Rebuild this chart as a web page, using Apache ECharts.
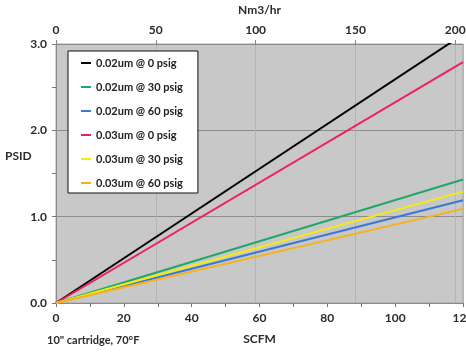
<!DOCTYPE html>
<html><head><meta charset="utf-8">
<script src="https://cdn.jsdelivr.net/npm/echarts@6/dist/echarts.min.js"></script>
<style>html,body{margin:0;padding:0;background:#fff}#c{width:466px;height:353px}</style>
</head><body><div id="c"></div>
<script>
const seriesNames = ['0.02um @ 0 psig','0.02um @ 30 psig','0.02um @ 60 psig','0.03um @ 0 psig','0.03um @ 30 psig','0.03um @ 60 psig'];
const seriesColors = ['#000000','#20a868','#3a78d4','#f0205a','#f2ec10','#f5b21c'];
const scfm = [0, 120];
const psid_002_0 = [0, 3.11];
const psid_002_30 = [0, 1.43];
const psid_002_60 = [0, 1.19];
const psid_003_0 = [0, 2.79];
const psid_003_30 = [0, 1.29];
const psid_003_60 = [0, 1.09];
const seriesValues = [psid_002_0, psid_002_30, psid_002_60, psid_003_0, psid_003_30, psid_003_60];
const nm3PerScfm = 1.699;

const font = 'Lato, "Open Sans", sans-serif';
const lbl = {color:'#2b2b2b', fontFamily:font, fontWeight:'bold', fontSize:12};
const chart = echarts.init(document.getElementById('c'));
chart.setOption({
  animation:false,
  backgroundColor:'#ffffff',
  grid:{left:56, right:3, top:44, bottom:50, containLabel:false, outerBoundsMode:'none',
        show:true, backgroundColor:'#c8c8c8', borderColor:'#a8a8a8', borderWidth:1},
  legend:{
    show:true, orient:'vertical', left:68, top:51,
    backgroundColor:'#ffffff', borderColor:'#111', borderWidth:1,
    padding:[5,15,3,13], itemGap:10, itemWidth:10, itemHeight:2, icon:'rect',
    textStyle:{color:'#222', fontFamily:font, fontWeight:'bold', fontSize:11, lineHeight:14, height:14},
    data:seriesNames
  },
  xAxis:[
    {type:'value', position:'bottom', min:0, max:120, interval:20,
     name:'SCFM', nameLocation:'middle', nameGap:30, nameTextStyle:lbl,
     axisLine:{show:true, lineStyle:{color:'#8a8a8a'}},
     axisTick:{show:true, length:4, lineStyle:{color:'#777'}},
     minorTick:{show:true, splitNumber:2, length:4, lineStyle:{color:'#777'}},
     axisLabel:Object.assign({margin:9, showMaxLabel:true}, lbl),
     splitLine:{show:false}},
    {type:'value', position:'top', min:0, max:120*nm3PerScfm, interval:50,
     name:'Nm3/hr', nameLocation:'middle', nameGap:28, nameTextStyle:lbl,
     axisLine:{show:true, lineStyle:{color:'#8a8a8a'}},
     axisTick:{show:true, length:4, lineStyle:{color:'#888'}},
     axisLabel:Object.assign({margin:8, showMaxLabel:false}, lbl),
     splitLine:{show:true, lineStyle:{color:'#b4b4b4', width:1}}}
  ],
  yAxis:{type:'value', min:0, max:3, interval:1,
    axisLine:{show:true, lineStyle:{color:'#8a8a8a'}},
    axisTick:{show:true, length:4, lineStyle:{color:'#777'}},
    minorTick:{show:true, splitNumber:2, length:4, lineStyle:{color:'#777'}},
    axisLabel:Object.assign({margin:9, formatter:v=>v.toFixed(1)}, lbl),
    splitLine:{show:true, lineStyle:{color:'#8c8c8c', width:1}}},
  graphic:[
    {type:'text', left:5, top:150, style:{text:'PSID', fill:'#2b2b2b', font:'bold 12px '+font}},
    {type:'text', left:47, top:335, style:{text:'10" cartridge, 70\u00B0F', fill:'#2b2b2b', font:'bold 11px '+font}}
  ],
  series: seriesNames.map((n,i)=>({
    name:n, type:'line', xAxisIndex:0, showSymbol:false, symbol:'none', clip:true,
    lineStyle:{color:seriesColors[i], width:2}, itemStyle:{color:seriesColors[i]},
    data: scfm.map((x,j)=>[x, seriesValues[i][j]])
  }))
});
</script></body></html>
